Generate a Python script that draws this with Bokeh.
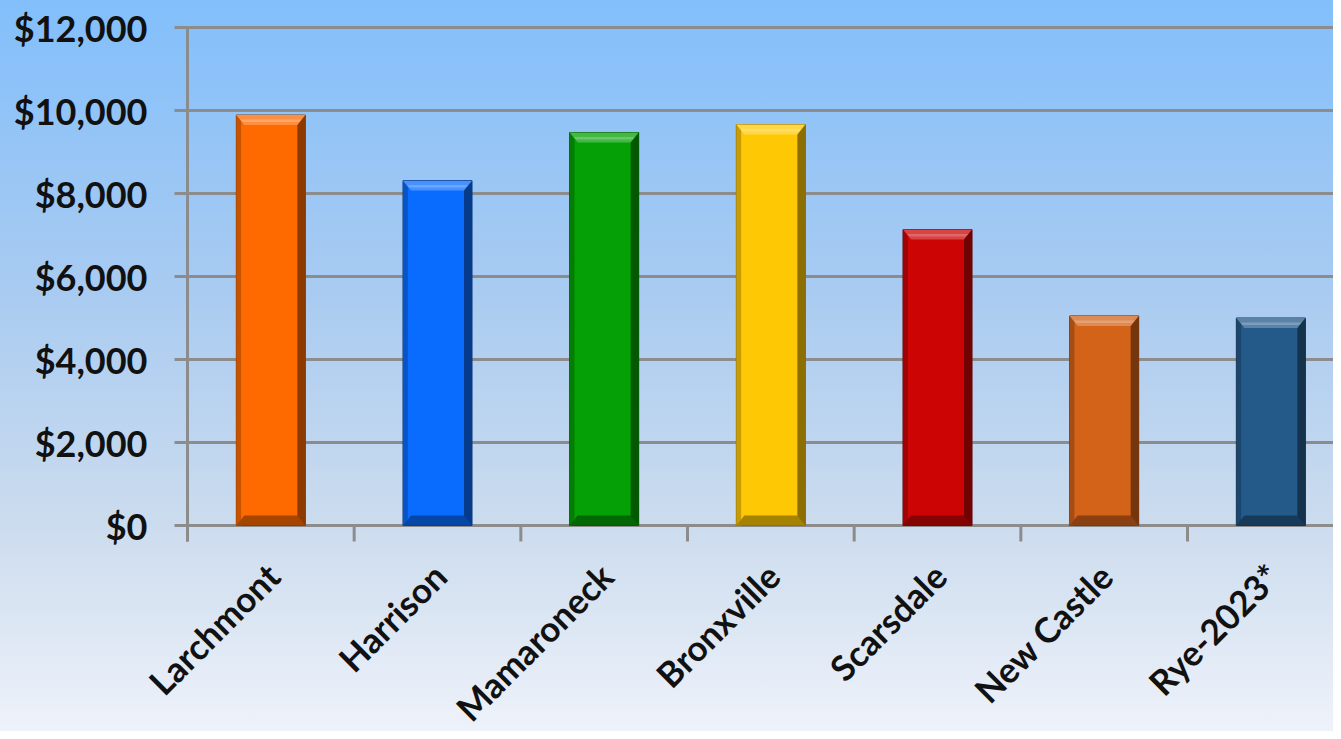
import numpy as np
from bokeh.plotting import figure
from bokeh.models import Range1d, InlineStyleSheet, LabelSet, ColumnDataSource
from bokeh.core.properties import value
from bokeh.embed import file_html
from bokeh.resources import INLINE

# ---- data ----
towns = ["Larchmont", "Harrison", "Mamaroneck", "Bronxville", "Scarsdale", "New Castle", "Rye-2023*"]
values = [9890, 8310, 9470, 9660, 7130, 5050, 5000]
colors = ["#FF6A00", "#0A6CFF", "#05A005", "#FFC805", "#CC0404", "#D4631A", "#245A8A"]
y_ticks = [0, 2000, 4000, 6000, 8000, 10000, 12000]
y_tick_labels = ["$" + format(v, ",") for v in y_ticks]


def mix(hexc, other, t):
    h = hexc.lstrip("#")
    o = other.lstrip("#")
    c = [int(h[i:i + 2], 16) for i in (0, 2, 4)]
    d = [int(o[i:i + 2], 16) for i in (0, 2, 4)]
    r = [round(c[k] * (1 - t) + d[k] * t) for k in range(3)]
    return "#%02x%02x%02x" % tuple(r)


n = len(towns)
centers = list(np.arange(n) + 0.5)
bounds = list(np.arange(n + 1).astype(float))
bw = 0.414

W, H = 1333, 731
LEFT, TOP, AXIS_Y = 187, 27, 525          # y axis x, 12000 line y, 0 line y (px)
CAT_PX = 166.67
ymax = y_ticks[-1]
ppu = (AXIS_Y - TOP) / ymax               # px per data unit (y)
x_lo = -LEFT / CAT_PX
x_hi = (W - LEFT) / CAT_PX
y_lo = -(H - AXIS_Y) / ppu
y_hi = ymax + TOP / ppu
ytick_len = 13 / CAT_PX
xtick_len = 16 / ppu

FONT = "Lato"
grey = "#8C8C8C"
p = figure(width=W, height=H, output_backend="svg", toolbar_location=None,
           x_range=Range1d(x_lo, x_hi), y_range=Range1d(y_lo, y_hi),
           x_axis_location=None, y_axis_location=None,
           min_border_left=0, min_border_right=0, min_border_top=0, min_border_bottom=0)
p.stylesheets = [InlineStyleSheet(css=":host { background: linear-gradient(to bottom, #82BFFB 0%, #A9CBF1 40%, #CCDCEE 72%, #EEF2FA 100%); }")]
p.background_fill_alpha = 0
p.border_fill_alpha = 0
p.outline_line_color = None
p.grid.visible = False

# ---- gridlines with their outward ticks ----
p.segment(x0=[-ytick_len] * len(y_ticks), x1=[x_hi] * len(y_ticks), y0=y_ticks, y1=y_ticks,
          line_color=grey, line_width=3)
# value axis line
p.segment(x0=[0], x1=[0], y0=[-xtick_len], y1=[ymax], line_color=grey, line_width=3)
# category boundary ticks
p.segment(x0=bounds, x1=bounds, y0=[0] * len(bounds), y1=[-xtick_len] * len(bounds),
          line_color=grey, line_width=3)

# ---- bars with bevel ----
bx = 0.048
by = 240
lefts = [c - bw / 2 for c in centers]
rights = [c + bw / 2 for c in centers]
p.quad(left=lefts, right=rights, bottom=0, top=values, fill_color=colors,
       line_color=[mix(c, "#000000", 0.5) for c in colors], line_width=1)
p.quad(left=lefts, right=[l + bx * 0.6 for l in lefts], bottom=0, top=values,
       fill_color=[mix(c, "#000000", 0.22) for c in colors], line_color=None)
p.quad(left=[r - bx for r in rights], right=rights, bottom=0, top=values,
       fill_color=[mix(c, "#000000", 0.45) for c in colors], line_color=None)
top_xs = [[l, r, r - bx, l + bx] for l, r in zip(lefts, rights)]
top_ys = [[v, v, v - by, v - by] for v in values]
p.patches(xs=top_xs, ys=top_ys, fill_color=[mix(c, "#FFFFFF", 0.25) for c in colors], line_color=None)
hl_xs = [[l + bx * 0.5, r - bx * 0.5, r - bx * 0.8, l + bx * 0.8] for l, r in zip(lefts, rights)]
hl_ys = [[v - by * 0.45, v - by * 0.45, v - by * 0.7, v - by * 0.7] for v in values]
p.patches(xs=hl_xs, ys=hl_ys, fill_color=[mix(c, "#FFFFFF", 0.4) for c in colors], line_color=None)
bot_xs = [[l, r, r - bx, l + bx] for l, r in zip(lefts, rights)]
bot_ys = [[0, 0, by, by] for _ in values]
p.patches(xs=bot_xs, ys=bot_ys, fill_color=[mix(c, "#000000", 0.35) for c in colors], line_color=None)

# ---- value tick labels ----
ysrc = ColumnDataSource(dict(x=[0] * len(y_ticks), y=y_ticks, text=y_tick_labels))
p.add_layout(LabelSet(x="x", y="y", text="text", source=ysrc, x_offset=-40,
                      text_align="right", text_baseline="middle",
                      text_font=value(FONT), text_font_style="bold", text_font_size="36px",
                      text_color="#111111"))

# ---- rotated category labels ----
lab_src = ColumnDataSource(dict(x=centers, y=[0] * n, text=towns))
p.add_layout(LabelSet(x="x", y="y", text="text", source=lab_src, angle=np.pi / 4,
                      text_align="right", text_baseline="middle", x_offset=2, y_offset=-44,
                      text_font=value(FONT), text_font_style="bold", text_font_size="35px",
                      text_color="#111111"))

open("out.html", "w").write(file_html(p, INLINE))
